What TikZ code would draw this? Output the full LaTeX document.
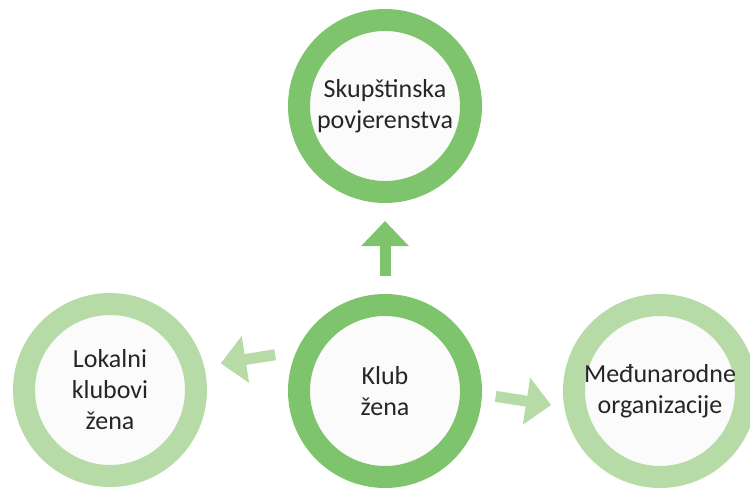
\documentclass[tikz,border=0pt]{standalone}
\usepackage{fontspec}
\setmainfont{Carlito}
\usetikzlibrary{arrows.meta}

\definecolor{darkgreen}{RGB}{126,196,108}
\definecolor{lightgreen}{RGB}{182,219,166}
\definecolor{innerfill}{RGB}{251,251,251}

\tikzset{
  ring/.style={circle, draw=#1, line width=22bp, fill=innerfill,
    minimum size=172bp, inner sep=0pt, outer sep=0pt, align=center,
    font=\fontsize{26bp}{31bp}\selectfont, text=black!85},
  flow/.style={draw=#1, line width=11bp,
    -{Triangle[width=46bp,length=25bp,fill=#1]}}
}

\begin{document}
\begin{tikzpicture}[x=1bp,y=-1bp]
                \useasboundingbox (0,0) rectangle (750,488);
                \clip (0,0) rectangle (750,488);

                %% circles
                \node[ring=darkgreen]  (skup) at (385,106) {Skupštinska\\povjerenstva};
                \node[ring=darkgreen]  (klub) at (385,391) {Klub\\žena};
                \node[ring=lightgreen] (lok)  at (110,390) {Lokalni\\klubovi\\žena};
                \node[ring=lightgreen] (med)  at (660,391) {Međunarodne\\organizacije};

                %% arrows
                \draw[flow=darkgreen, shorten <=29bp, shorten >=29bp] (klub) -- (skup);
                \draw[flow=lightgreen, shorten <=35bp, shorten >=28bp] (klub.151) -- (lok.15);
                \draw[flow=lightgreen, shorten <=25bp, shorten >=25bp] (klub.-1) -- (med.192);
\end{tikzpicture}
\end{document}
